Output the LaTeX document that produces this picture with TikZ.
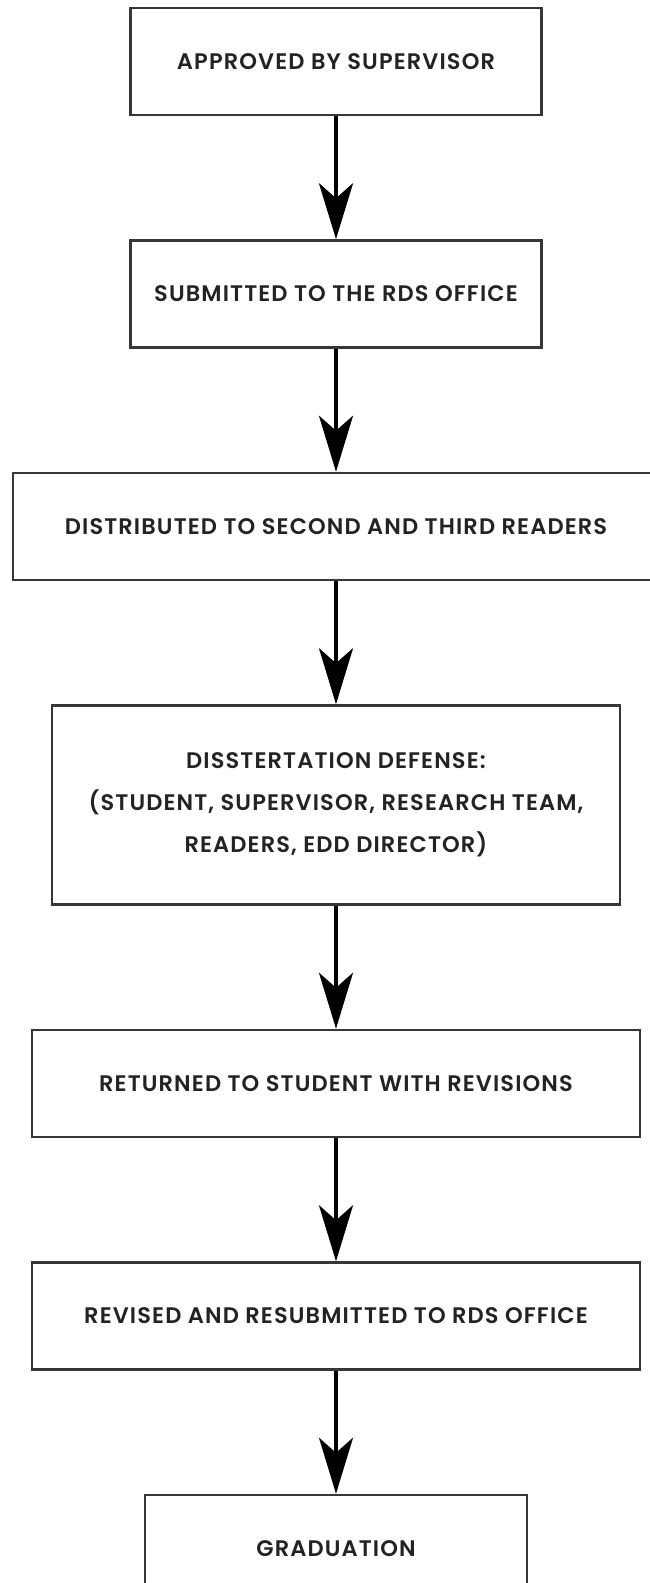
\documentclass[tikz,border=0pt]{standalone}
\usepackage{fontspec}
\setsansfont{Poppins}[LetterSpace=5, BoldFont={Poppins SemiBold}]
\usetikzlibrary{arrows.meta, positioning}
\definecolor{BoxLine}{RGB}{55,55,55}
\definecolor{BoxText}{RGB}{35,35,35}
\tikzset{
    box/.style={
        rectangle, draw=BoxLine, line width=2.5pt, fill=white,
        align=center, text=BoxText, inner sep=0pt,
        font=\sffamily\bfseries\fontsize{22.5}{42}\selectfont,
        minimum height=107pt
    },
    arrow/.style={
        line width=4pt, color=black,
        -{Stealth[length=56pt, width=34pt, inset=15pt]}
    }
}
\begin{document}
\begin{tikzpicture}[x=1pt, y=1pt, node distance=123pt]

    \useasboundingbox (0,0) rectangle (649,-1583);

    % STEP 1
    \node[box, minimum width=411pt] (approved) at (336,-61.5) {APPROVED BY SUPERVISOR};

    % STEP 2
    \node[box, minimum width=411pt, below=of approved] (submitted) {SUBMITTED TO THE RDS OFFICE};
    \draw[arrow] (approved) -- (submitted);

    % STEP 3
    \node[box, minimum width=646pt, below=of submitted] (distributed) {DISTRIBUTED TO SECOND AND THIRD READERS};
    \draw[arrow] (submitted) -- (distributed);

    % STEP 4
    \node[box, minimum width=568pt, minimum height=199pt, below=of distributed] (defense) {
        DISSTERTATION DEFENSE: \\
        (STUDENT, SUPERVISOR, RESEARCH TEAM, \\
        READERS, EDD DIRECTOR)
    };
    \draw[arrow] (distributed) -- (defense);

    % STEP 5
    \node[box, minimum width=608pt, below=of defense] (returned) {RETURNED TO STUDENT WITH REVISIONS};
    \draw[arrow] (defense) -- (returned);

    % STEP 6
    \node[box, minimum width=608pt, below=of returned] (revised) {REVISED AND RESUBMITTED TO RDS OFFICE};
    \draw[arrow] (returned) -- (revised);

    % STEP 7
    \node[box, minimum width=382pt, below=of revised] (graduation) {GRADUATION};
    \draw[arrow] (revised) -- (graduation);

\end{tikzpicture}
\end{document}
